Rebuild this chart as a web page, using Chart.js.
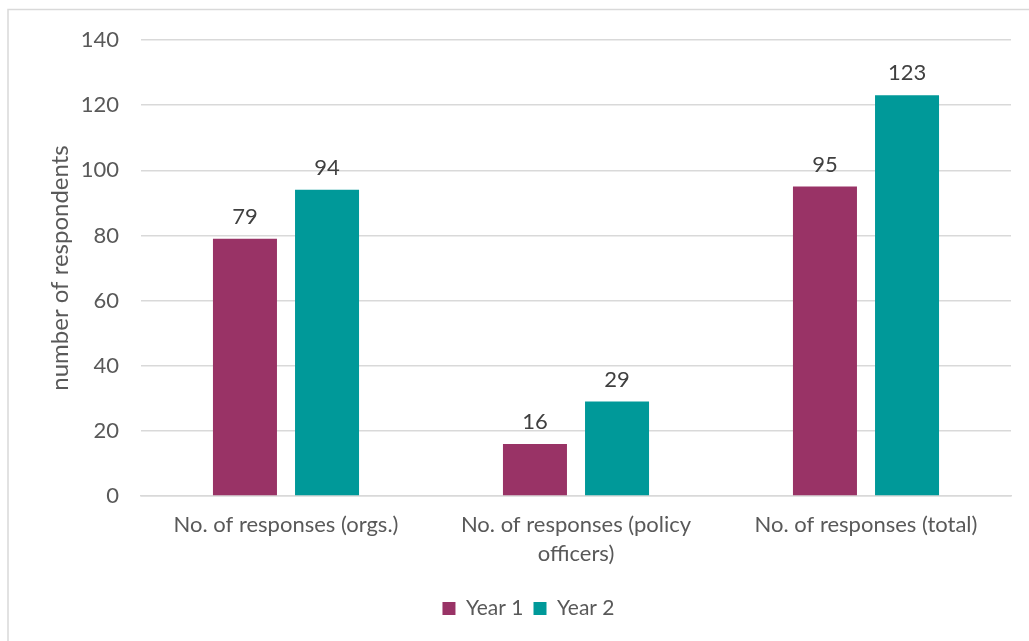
<!DOCTYPE html>
<html>
<head>
<meta charset="utf-8">
<script src="https://cdn.jsdelivr.net/npm/chart.js@4/dist/chart.umd.min.js"></script>
<style>
  html, body { margin: 0; padding: 0; background: #ffffff; }
  #wrap { position: relative; width: 1029px; height: 641px; }
</style>
</head>
<body>
<div id="wrap"><canvas id="chart" width="1029" height="641"></canvas></div>
<script>
// Survey response counts per year
const categories = [
  'No. of responses (orgs.)',
  ['No. of responses (policy', 'officers)'],
  'No. of responses (total)'
];
const year1 = [79, 16, 95];
const year2 = [94, 29, 123];
const seriesNames = ['Year 1', 'Year 2'];
const yTicks = [0, 20, 40, 60, 80, 100, 120, 140];

const FONT = 'Lato, "Open Sans", sans-serif';
const TEXT = '#595959';

// Writes each bar's value just above it
const valueLabels = {
  id: 'valueLabels',
  afterDatasetsDraw(chart) {
    const ctx = chart.ctx;
    ctx.save();
    ctx.font = '22px ' + FONT;
    ctx.fillStyle = '#404040';
    ctx.textAlign = 'center';
    ctx.textBaseline = 'bottom';
    chart.data.datasets.forEach((ds, i) => {
      chart.getDatasetMeta(i).data.forEach((bar, j) => {
        ctx.fillText(String(ds.data[j]), bar.x, bar.y - 11);
      });
    });
    ctx.restore();
  }
};

// Light frame along the top and left edges
const frame = {
  id: 'frame',
  beforeDraw(chart) {
    const ctx = chart.ctx;
    ctx.save();
    ctx.strokeStyle = '#d9d9d9';
    ctx.lineWidth = 1.5;
    ctx.beginPath();
    ctx.moveTo(8, chart.height);
    ctx.lineTo(8, 9.5);
    ctx.lineTo(chart.width, 9.5);
    ctx.stroke();
    ctx.restore();
  }
};

new Chart(document.getElementById('chart'), {
  type: 'bar',
  data: {
    labels: categories,
    datasets: [
      { label: seriesNames[0], data: year1, backgroundColor: '#993366' },
      { label: seriesNames[1], data: year2, backgroundColor: '#009999' }
    ]
  },
  options: {
    responsive: false,
    animation: false,
    devicePixelRatio: 1,
    categoryPercentage: 0.566,
    barPercentage: 0.78,
    layout: { padding: { left: 46, right: 18, top: 40, bottom: 12 } },
    plugins: {
      legend: {
        position: 'bottom',
        labels: {
          font: { family: FONT, size: 21 },
          color: TEXT,
          boxWidth: 13,
          boxHeight: 13,
          padding: 10
        }
      },
      tooltip: { enabled: false }
    },
    scales: {
      x: {
        grid: { display: false, drawTicks: false },
        border: { color: '#d9d9d9', width: 1.5 },
        ticks: {
          font: { family: FONT, size: 22, lineHeight: 1.3 },
          color: TEXT,
          padding: 15,
          maxRotation: 0
        },
        afterFit(s) { s.height = 92; }
      },
      y: {
        min: 0,
        max: 140,
        afterBuildTicks(s) { s.ticks = yTicks.map(v => ({ value: v })); },
        grid: { color: '#d9d9d9', lineWidth: 1.5, drawTicks: false },
        border: { display: false },
        ticks: {
          font: { family: FONT, size: 22 },
          color: TEXT,
          padding: 22
        },
        title: {
          display: true,
          text: 'number of respondents',
          font: { family: FONT, size: 24 },
          color: TEXT,
          padding: { top: 0, bottom: 0 }
        },
        afterFit(s) { s.width = 95; }
      }
    }
  },
  plugins: [frame, valueLabels]
});
</script>
</body>
</html>
